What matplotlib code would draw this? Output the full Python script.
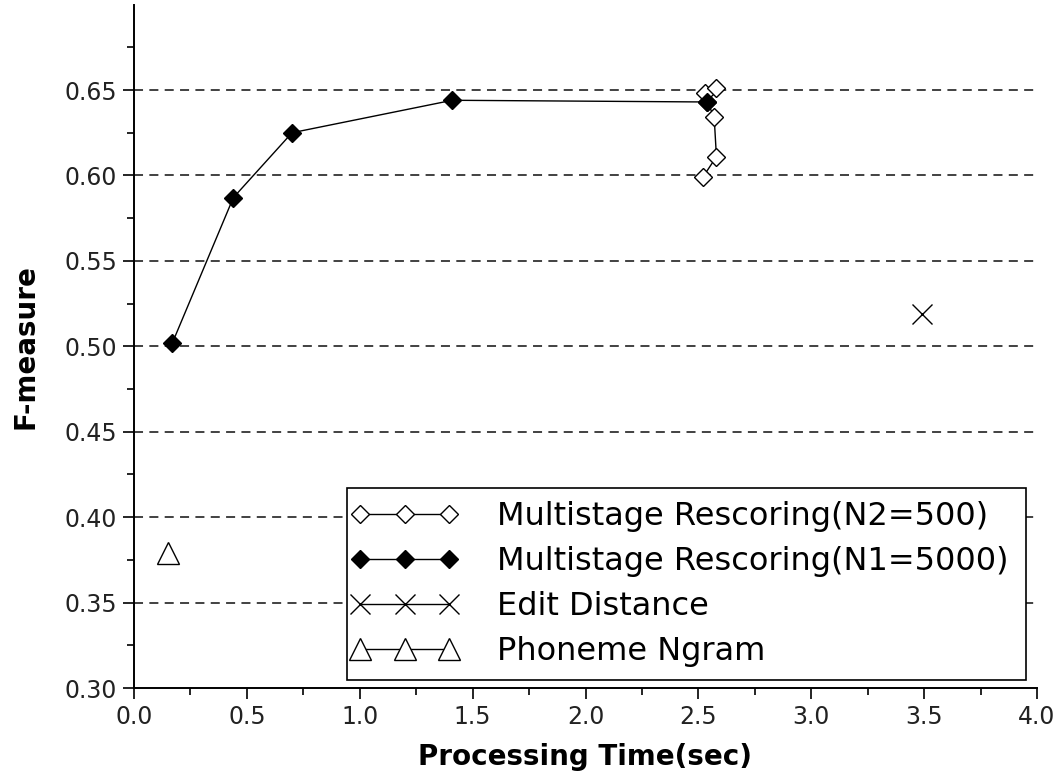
import matplotlib
matplotlib.use("Agg")
import matplotlib.pyplot as plt
from matplotlib.ticker import FixedLocator
from matplotlib.lines import Line2D
from matplotlib.legend_handler import HandlerLine2D

# ---- data ----
n2_time = [2.52, 2.58, 2.57, 2.54, 2.53, 2.58]
n2_f = [0.599, 0.611, 0.634, 0.643, 0.648, 0.651]

n1_time = [0.17, 0.44, 0.70, 1.41, 2.54]
n1_f = [0.502, 0.587, 0.625, 0.644, 0.643]

edit_time = [3.49]
edit_f = [0.519]

ngram_time = [0.15]
ngram_f = [0.379]

labels = ["Multistage Rescoring(N2=500)", "Multistage Rescoring(N1=5000)",
          "Edit Distance", "Phoneme Ngram"]
xticks = [0.0, 0.5, 1.0, 1.5, 2.0, 2.5, 3.0, 3.5, 4.0]
yticks = [0.30, 0.35, 0.40, 0.45, 0.50, 0.55, 0.60, 0.65]

plt.rcParams['font.family'] = ['DejaVu Sans']

fig = plt.figure(figsize=(10.58, 7.82), dpi=100)
ax = fig.add_axes([134/1058, 1-688/782, (1037-134)/1058, (688-4.6)/782])

ax.set_xlim(0, 4.0)
ax.set_ylim(0.30, 0.70)

for y in yticks[1:]:
    ax.axhline(y, color='#333333', lw=1.3, ls=(0, (5, 3.5)), zorder=1)

ax.plot(n2_time, n2_f, color='black', lw=1.0, marker='D', ms=9,
        mfc='white', mec='black', mew=1.0, label=labels[0], zorder=3)
ax.plot(n1_time, n1_f, color='black', lw=1.0, marker='D', ms=9,
        mfc='black', mec='black', mew=1.0, label=labels[1], zorder=4)
ax.plot(edit_time, edit_f, color='black', lw=1.0, marker='x', ms=15,
        mew=1.0, label=labels[2], zorder=3)
ax.plot(ngram_time, ngram_f, color='black', lw=1.0, marker='^', ms=16,
        mfc='white', mec='black', mew=1.0, label=labels[3], zorder=3)

ax.set_xticks(xticks)
ax.set_xticklabels([f"{v:.1f}" for v in xticks])
ax.set_yticks(yticks)
ax.set_yticklabels([f"{v:.2f}" for v in yticks])
ax.xaxis.set_minor_locator(FixedLocator([0.25 + 0.5*i for i in range(8)]))
ax.yaxis.set_minor_locator(FixedLocator([0.325 + 0.05*i for i in range(8)]))

ax.tick_params(which='major', direction='out', length=8, width=1.2,
               labelsize=17, labelcolor='#222222', pad=4)
ax.tick_params(which='minor', direction='out', length=5, width=1.2)

for s in ['top', 'right']:
    ax.spines[s].set_visible(False)
for s in ['left', 'bottom']:
    ax.spines[s].set_linewidth(1.4)

ax.set_xlabel("Processing Time(sec)", fontsize=20, fontweight='bold', labelpad=10)
ax.set_ylabel("F-measure", fontsize=20, fontweight='bold', labelpad=18)

leg = ax.legend(loc='lower left',
                bbox_to_anchor=((347-134)/903, (688-680)/683.4, (1026-347)/903, (680-486)/683.4),
                mode='expand', numpoints=3, fontsize=23, handlelength=2.8,
                handletextpad=1.5, labelspacing=0.44, borderpad=0.4,
                frameon=True, fancybox=False, framealpha=1, edgecolor='black',
                borderaxespad=0,
                handler_map={Line2D: HandlerLine2D(marker_pad=0, numpoints=3)})
leg.get_frame().set_linewidth(1.2)
leg.set_zorder(5)

fig.savefig("out.png", dpi=100)
